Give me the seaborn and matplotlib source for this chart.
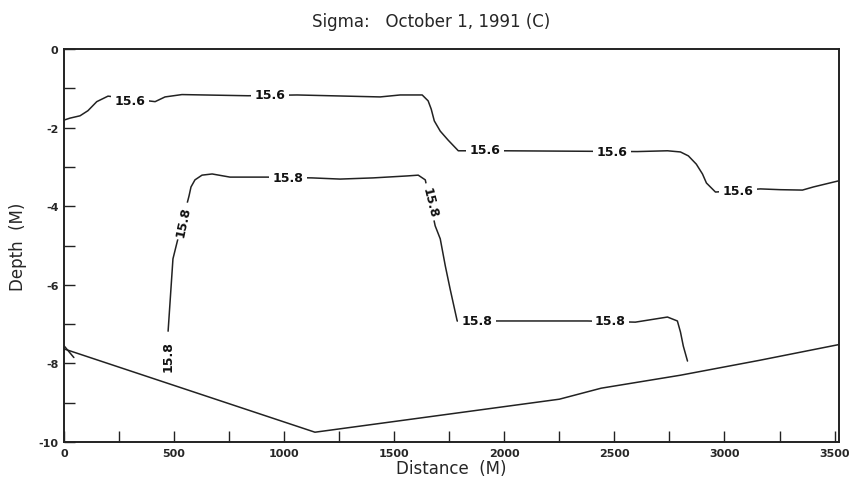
import numpy as np
import pandas as pd
import matplotlib
matplotlib.use("Agg")
import matplotlib.pyplot as plt
import seaborn as sns

# %% data (distance in m, depth in m)
iso156_dist = [0, 27, 73, 109, 149, 200, 414, 459, 536, 836, 1059, 1436, 1527,
               1627, 1654, 1668, 1682, 1709, 1745, 1791, 1995, 2291, 2604, 2741,
               2800, 2836, 2872, 2900, 2918, 2959, 3163, 3254, 3354, 3404, 3522]
iso156_depth = [-1.81, -1.76, -1.70, -1.57, -1.34, -1.20, -1.34, -1.22, -1.16,
                -1.19, -1.17, -1.22, -1.17, -1.17, -1.32, -1.53, -1.83, -2.09,
                -2.32, -2.59, -2.59, -2.60, -2.61, -2.59, -2.62, -2.72, -2.93,
                -3.18, -3.41, -3.64, -3.56, -3.58, -3.59, -3.51, -3.35]

iso158_dist = [473, 495, 514, 568, 577, 595, 627, 673, 754, 923, 1127, 1254,
               1404, 1559, 1609, 1641, 1686, 1709, 1732, 1754, 1786, 1995, 2377,
               2595, 2741, 2786, 2800, 2813, 2832]
iso158_depth = [-7.18, -5.34, -4.91, -3.74, -3.51, -3.33, -3.21, -3.18, -3.26,
                -3.26, -3.28, -3.31, -3.28, -3.23, -3.21, -3.33, -4.50, -4.83,
                -5.52, -6.11, -6.92, -6.92, -6.92, -6.95, -6.82, -6.92, -7.20,
                -7.56, -7.94]

bottom_dist = [0, 1140, 2250, 2440, 2800, 3160, 3520]
bottom_depth = [-7.63, -9.75, -8.91, -8.63, -8.30, -7.92, -7.52]
hook_dist = [0, 45]
hook_depth = [-7.55, -7.85]

# contour labels: (distance, depth, rotation)
lab156 = [(300, -1.30, 0), (936, -1.17, 0), (1913, -2.57, 0),
          (2491, -2.60, 0), (3063, -3.59, 0)]
lab158 = [(473, -7.81, 90), (541, -4.38, 78), (1018, -3.26, 0),
          (1663, -3.89, -76), (1877, -6.92, 0), (2482, -6.92, 0)]

xticks_major = np.arange(0, 3501, 500)
xticks_minor = np.arange(0, 3501, 250)
yticks_major = np.arange(-10, 1, 2)
yticks_minor = np.arange(-10, 1, 1)

# %% plot
sns.set_style("white")
plt.rcParams["font.family"] = ["DejaVu Sans"]

fig = plt.figure(figsize=(8.62, 4.89), dpi=100)
ax = fig.add_axes([0.0742, 0.094, 0.8991, 0.8038])

kw = dict(color="#222222", linewidth=1.1, sort=False, estimator=None,
          legend=False, ax=ax)
sns.lineplot(x=iso156_dist, y=iso156_depth, **kw)
sns.lineplot(x=iso158_dist, y=iso158_depth, **kw)
sns.lineplot(x=bottom_dist, y=bottom_depth, **kw)
sns.lineplot(x=hook_dist, y=hook_depth, **kw)

for labs, txt in [(lab156, "15.6"), (lab158, "15.8")]:
    for x, y, rot in labs:
        ax.text(x, y, txt, fontsize=9, fontweight="bold", rotation=rot,
                ha="center", va="center", color="#111111",
                bbox=dict(fc="white", ec="none", pad=2.5), zorder=5)

ax.set_xlim(0, 3520)
ax.set_ylim(-10, 0)
ax.set_xticks(xticks_major)
ax.set_xticks(xticks_minor, minor=True)
ax.set_yticks(yticks_major)
ax.set_yticks(yticks_minor, minor=True)
ax.set_xticklabels([str(v) for v in xticks_major], fontsize=8, fontweight="bold")
ax.set_yticklabels([str(v) for v in yticks_major], fontsize=8, fontweight="bold")
ax.tick_params(axis="both", which="both", direction="in", length=8,
               width=1.0, color="#222222", pad=4, top=False, right=False,
               bottom=True, left=True)
for s in ax.spines.values():
    s.set_color("#222222")
    s.set_linewidth(1.4)

ax.set_xlabel("Distance  (M)", fontsize=12, labelpad=1)
ax.set_ylabel("Depth  (M)", fontsize=12, labelpad=8)
fig.text(0.5, 0.955, "Sigma:   October 1, 1991 (C)", fontsize=12,
         ha="center", va="center")

fig.savefig("out.png", dpi=100)
